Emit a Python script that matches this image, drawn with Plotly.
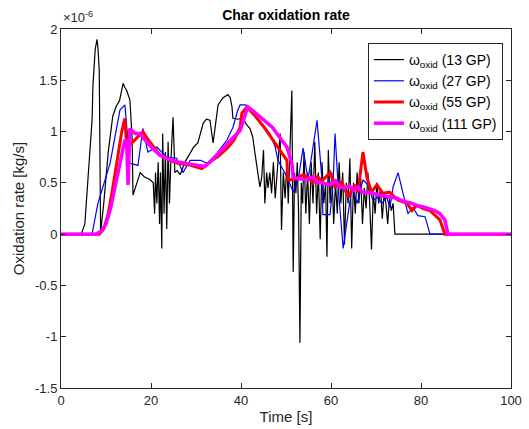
import plotly.graph_objects as go

SCALE = 1e-6

# 13 GP (black)
t13 = [0, 4.5, 5.3, 6, 6.9, 7.1, 7.6, 8, 8.2, 8.5, 8.8, 9.5, 10.5, 11.5, 12.3, 13, 13.8, 14.2, 14.6, 15.3, 15.8, 16,
       16.8, 17.6, 18.5, 19.8, 20.5, 20.8, 21, 21.3, 21.6, 21.9, 22.1, 22.4, 22.6, 22.9, 23.2, 23.5, 23.8, 24.1, 24.4,
       24.9, 25.3, 25.8, 26.5, 27.5, 28.7, 29.5, 30.4, 31.6, 32.3, 33.1, 33.8, 34.9, 36, 37.1, 37.6, 38, 38.2, 39.3,
       40.4, 41.2, 42, 42.6, 43.1, 43.8, 44.2, 44.6, 45, 45.3, 45.7, 46, 46.4, 46.8, 47.2, 47.6, 48, 48.4, 48.7, 49,
       49.4, 49.8, 50.2, 50.5, 50.9, 51.3, 51.6, 51.9, 52.2, 52.5, 52.8, 53.1, 53.4, 53.7, 54, 54.4, 54.8, 55.2, 55.6,
       56, 56.4, 56.8, 57.2, 57.6, 58, 58.4, 58.8, 59.1, 59.4, 59.8, 60.2, 60.6, 61, 61.4, 61.8, 62.2, 62.6, 63, 63.4,
       63.8, 64.2, 64.6, 65, 65.4, 65.8, 66.2, 66.6, 67, 67.4, 67.8, 68.2, 68.6, 69, 69.4, 69.8, 70.2, 70.6, 71, 71.4,
       71.8, 72.2, 72.6, 73, 73.4, 73.8, 74.2, 100]
w13 = [0, 0, 0.1, 0.52, 1.11, 1.45, 1.8, 1.9, 1.82, 1.6, 0.02, 0.3, 0.8, 1.15, 1.25, 1.3, 1.47, 1.43, 1.4, 1.31, 0.95,
       0.38, 0.5, 0.6, 0.56, 0.53, 0.5, 0.2, 0.6, 0.3, 0.7, 0.1, 0.6, -0.14, 0.98, 0.2, 0.8, 0.05, 0.9, 0.3, 0.7,
       1.14, 0.6, 0.62, 0.58, 0.7, 0.79, 0.85, 0.89, 1.08, 1.12, 1.11, 0.89, 1.26, 1.33, 1.36, 1.33, 1.24, 1.13, 1.12,
       1.13, 1.07, 1.03, 0.95, 0.79, 0.6, 0.46, 0.55, 0.82, 0.3, 0.6, 0.45, 0.6, 0.4, 0.7, 0.35, 0.55, 0.75, 0.98, 0.04,
       0.6, 0.35, 0.7, 0.3, 0.92, 1.4, -0.37, 0.6, 0.4, 0.7, 0.2, -1.06, 0.5, 0.3, 0.8, 0.2, 0.6, 0.1, 0.7,
       0.3, 0.9, 0.2, 0.6, -0.05, 0.7, 0.3, 0.5, -0.22, 0.82, 0.3, 0.6, 0.1, 0.5, 0.2, 0.7, 0.3, 0.6, -0.1, 0.5,
       0.3, 0.74, -0.14, 0.5, 0.2, 0.6, 0.3, 0.55, 0.1, 0.45, 0.25, 0.6, 0.3, -0.15, 0.4, 0.2, 0.5, 0.3, 0.45, 0.15,
       0.4, 0.3, 0.1, 0.35, 0.23, 0.3, 0, 0]

# 27 GP (blue)
t27 = [0, 6.9, 8.2, 10.9, 13.1, 14.2, 15.3, 17.1, 18.2, 19.3, 21.3, 23.5, 25.7, 27.1, 28.7, 31, 32.5, 34.7, 36.9,
       38.2, 39.3, 39.8, 41, 43.5, 46.4, 47.6, 48.2, 50.2, 51.6, 52.7, 53.8, 54.9, 56.9, 58, 58.2, 59.8, 60.5, 60.9,
       61.6, 62.7, 63.8, 64.7, 65.8, 67.1, 68.2, 69.3, 70.4, 71.3, 72.4, 73.1, 73.8, 74.9, 76, 77.1, 78.2, 79.3, 80.9,
       82, 100]
w27 = [0, 0, 0.3, 0.69, 1.21, 1.26, 0.69, 0.67, 1.03, 0.8, 0.85, 0.75, 0.74, 0.6, 0.72, 0.72, 0.69, 0.79, 0.92,
       1.04, 1.21, 1.26, 1.26, 1.14, 0.98, 0.85, 0.72, 0.56, 0.41, 0.53, 0.84, 0.53, 1.11, 0.53, 0.19, 0.19, 0.53, 0.98,
       0.46, -0.14, 0.2, 0.46, 0.3, 0.53, 0.48, 0.33, 0.36, 0.3, 0.36, 0.26, 0.46, 0.6, 0.4, 0.2, 0.26, 0.18, 0.17,
       0, 0]

# 55 GP (red)
t55 = [0, 8.5, 9.5, 10.5, 11.5, 12.5, 13.5, 14.2, 14.6, 16, 17, 18.2, 19.2, 20.2, 22, 24.2, 26, 28, 29.5, 31.3, 33,
       35, 37, 38.5, 39.8, 40.2, 41.3, 43, 45, 47.1, 48.7, 50.2, 50.4, 51.6, 53.8, 55, 56, 57, 58, 59.8, 60.9, 62.4,
       63.8, 65.3, 66, 67.1, 68, 69, 70.2, 71.5, 73, 74.9, 76.9, 78, 79, 80.5, 82, 84.2, 85.3, 100]
w55 = [0, 0, 0.05, 0.2, 0.45, 0.75, 1.0, 1.13, 0.85, 0.9, 0.95, 1.0, 0.93, 0.87, 0.77, 0.72, 0.69, 0.68, 0.66, 0.64, 0.7,
       0.76, 0.84, 0.92, 1.04, 1.18, 1.24, 1.16, 1.05, 0.92, 0.82, 0.72, 0.53, 0.53, 0.58, 0.55, 0.5, 0.56, 0.52, 0.6,
       0.46, 0.51, 0.36, 0.48, 0.41, 0.8, 0.55, 0.41, 0.48, 0.4, 0.41, 0.33, 0.3, 0.23, 0.28, 0.25, 0.23, 0.14, 0, 0]

# 111 GP (magenta)
t111 = [0, 7.8, 9, 10, 11, 12, 13, 14.2, 14.6, 14.9, 15.3, 16.5, 17.6, 19, 20.5, 22, 24, 26.4, 29, 32, 34, 36, 38,
        39.8, 40.6, 41.5, 43, 45, 47, 48.5, 50.2, 51.3, 51.6, 53, 54.7, 56, 57, 58, 59.8, 61, 62, 63, 64, 65, 66, 67,
        69, 71, 73, 74.7, 76, 78, 79, 81, 83, 84.2, 85.3, 86, 100]
w111 = [0, 0, 0.03, 0.1, 0.25, 0.45, 0.68, 0.92, 0.9, 0.48, 1.03, 0.98, 0.98, 0.9, 0.83, 0.77, 0.73, 0.7, 0.68, 0.66,
        0.74, 0.84, 0.93, 1.01, 1.12, 1.24, 1.19, 1.12, 1.04, 0.95, 0.85, 0.69, 0.55, 0.54, 0.53, 0.56, 0.5, 0.5, 0.48,
        0.52, 0.46, 0.45, 0.47, 0.43, 0.46, 0.41, 0.4, 0.38, 0.36, 0.35, 0.32, 0.3, 0.28, 0.26, 0.23, 0.2, 0.14, 0, 0]

x_ticks = [0, 20, 40, 60, 80, 100]
y_ticks = [-1.5, -1, -0.5, 0, 0.5, 1, 1.5, 2]
y_tick_labels = ["-1.5", "-1", "-0.5", "0", "0.5", "1", "1.5", "2"]

series = [
    (t13, w13, "13 GP", "#000000", 1.2),
    (t27, w27, "27 GP", "#0000ff", 1.2),
    (t55, w55, "55 GP", "#ff0000", 3),
    (t111, w111, "111 GP", "#ff00ff", 3.5),
]

fig = go.Figure()
for t, w, name, color, lw in series:
    fig.add_trace(go.Scatter(
        x=t, y=[v * SCALE for v in w], mode="lines",
        line=dict(color=color, width=lw),
        name="ω<sub>oxid</sub> (" + name + ")",
    ))

axis_color = "#262626"
font_family = "Liberation Sans, Arial, sans-serif"

fig.update_layout(
    width=529, height=429,
    margin=dict(l=61, r=18, t=29, b=41),
    paper_bgcolor="white", plot_bgcolor="white",
    font=dict(family=font_family, size=13, color=axis_color),
    title=dict(text="<b>Char oxidation rate</b>", x=286 / 529, xanchor="center",
               y=1 - 15 / 429, yanchor="middle", font=dict(size=14, color="#000000")),
    showlegend=True,
    legend=dict(x=0.982, xanchor="right", y=0.961, yanchor="top",
                bordercolor=axis_color, borderwidth=1, bgcolor="white",
                font=dict(size=14, color="#000000"), tracegroupgap=0, itemwidth=30),
    xaxis=dict(range=[0, 100], tickvals=x_ticks, ticks="inside", ticklen=5,
               showline=True, linecolor=axis_color, linewidth=1, mirror="ticks",
               showgrid=False, zeroline=False, tickcolor=axis_color, automargin=False,
               tickfont=dict(size=13, color=axis_color),
               title=dict(text="Time [s]", font=dict(size=15, color=axis_color), standoff=4)),
    yaxis=dict(range=[-1.5 * SCALE, 2 * SCALE], tickvals=[v * SCALE for v in y_ticks], ticktext=y_tick_labels,
               ticks="inside", ticklen=5, showline=True, linecolor=axis_color, linewidth=1, mirror="ticks",
               showgrid=False, zeroline=False, tickcolor=axis_color, automargin=False,
               tickfont=dict(size=13, color=axis_color),
               title=dict(text="Oxidation rate [kg/s]", font=dict(size=15, color=axis_color), standoff=6)),
    annotations=[dict(text="×10<sup>-6</sup>", x=0, xref="paper", xanchor="left", y=1, yref="paper",
                      yanchor="bottom", yshift=2, showarrow=False, font=dict(size=13, color=axis_color))],
)

fig.write_html("out.html")
